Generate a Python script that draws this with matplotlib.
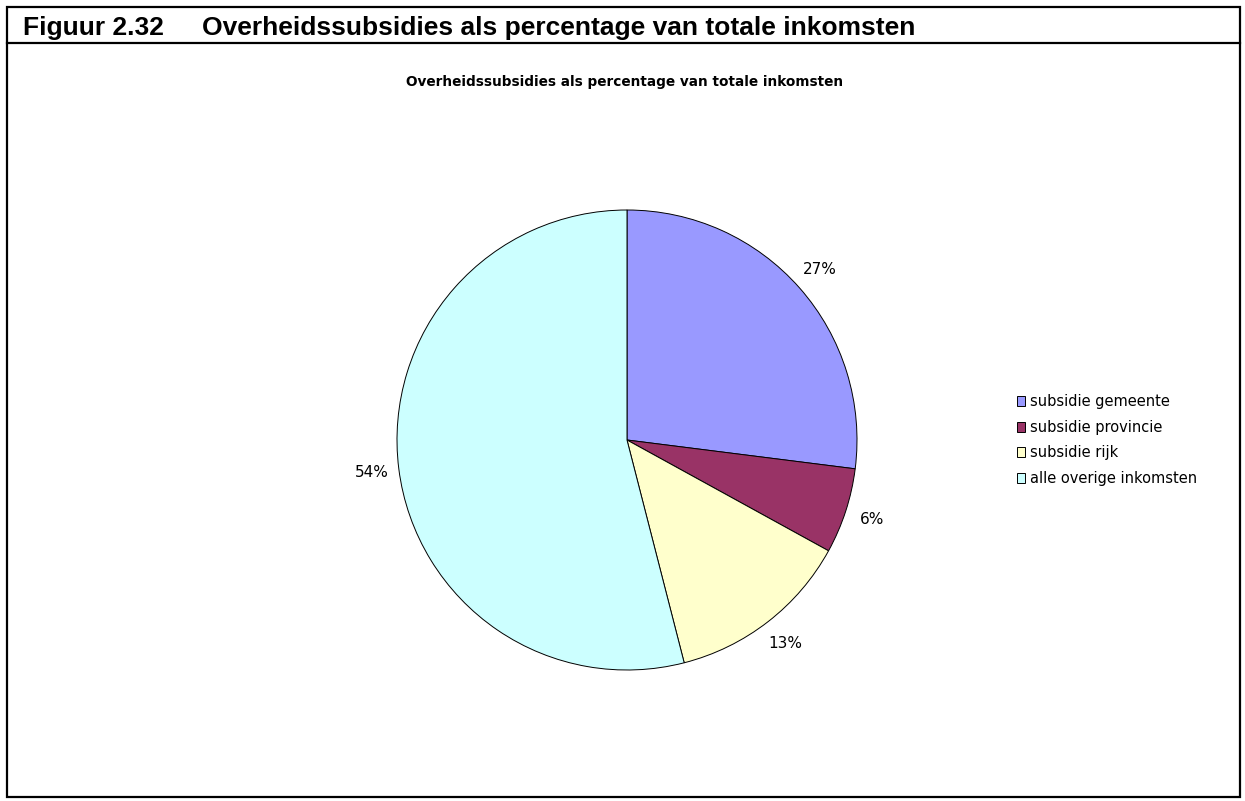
import matplotlib.pyplot as plt
from matplotlib.lines import Line2D
from matplotlib.patches import Rectangle

labels = ["subsidie gemeente", "subsidie provincie", "subsidie rijk", "alle overige inkomsten"]
shares = [27, 6, 13, 54]
colors = ["#9999FF", "#993366", "#FFFFCC", "#CCFFFF"]

W, H = 1245, 801
fig = plt.figure(figsize=(W / 100, H / 100), dpi=100)

# outer frame and header separator
fig.add_artist(Rectangle((7 / W, 4 / H), 1233 / W, 790 / H, transform=fig.transFigure,
                         fill=False, lw=1.6, ec="black"))
fig.add_artist(Line2D([7 / W, 1240 / W], [1 - 43 / H, 1 - 43 / H], transform=fig.transFigure,
                      lw=1.6, color="black"))

fig.text(23 / W, 1 - 35 / H, "Figuur 2.32", family="Liberation Sans", weight="bold", fontsize=19)
fig.text(202 / W, 1 - 35 / H, "Overheidssubsidies als percentage van totale inkomsten",
         family="Liberation Sans", weight="bold", fontsize=19)
fig.text(625 / W, 1 - 82 / H, "Overheidssubsidies als percentage van totale inkomsten",
         ha="center", va="center", weight="bold", fontsize=9.8)

# pie centre (627, 440), radius 230 px
cx, cy, r = 627, 440, 230
side = 2.5 * r
ax = fig.add_axes([(cx - side / 2) / W, (H - cy - side / 2) / H, side / W, side / H])
wedges, texts = ax.pie(shares, colors=colors, startangle=90, counterclock=False,
                       labels=[f"{v}%" for v in shares], labeldistance=1.12,
                       wedgeprops=dict(edgecolor="black", linewidth=0.7),
                       textprops=dict(fontsize=11))
for t in texts:
    t.set_horizontalalignment("center")
ax.set_xlim(-1.25, 1.25)
ax.set_ylim(-1.25, 1.25)

fig.legend(wedges, labels, loc="center left", bbox_to_anchor=(1004 / W, 1 - 440 / H),
           frameon=False, fontsize=10.5, handlelength=0.55, handleheight=0.7,
           handletextpad=0.35, labelspacing=0.72)

fig.savefig("out.png", dpi=100)
